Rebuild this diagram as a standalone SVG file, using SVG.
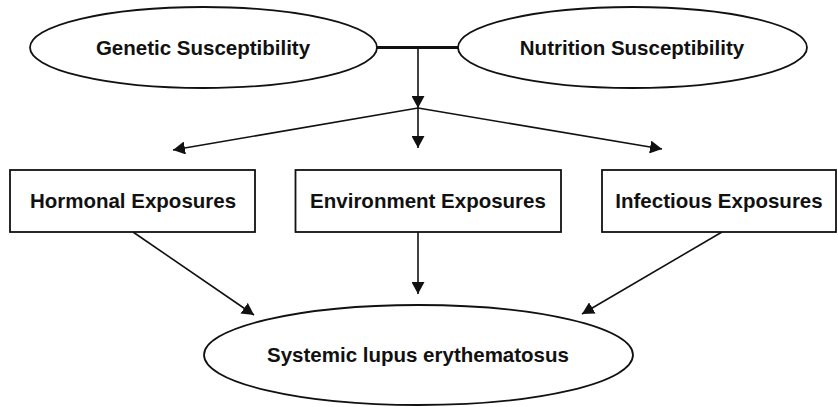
<svg xmlns="http://www.w3.org/2000/svg" width="838" height="407" viewBox="0 0 838 407">
  <style>
    .shape { fill: #fff; stroke: #111; stroke-width: 1.8; }
    .label { font-family: "Liberation Sans", Arial, sans-serif; font-weight: bold; font-size: 20.5px; fill: #111; text-anchor: middle; }
    .conn { fill: none; stroke: #111; stroke-width: 1.6; }
    .arrow { marker-end: url(#ah); }
  </style>
  <defs>
    <marker id="ah" markerUnits="userSpaceOnUse" markerWidth="13" markerHeight="13" refX="12" refY="6.5" orient="auto" viewBox="0 0 13 13">
      <path d="M0,0 L12,6.5 L0,13 z" fill="#111"/>
    </marker>
  </defs>
  <rect width="838" height="407" fill="#fff"/>

  <g id="connectors">
    <line class="conn" x1="377" y1="47.5" x2="458" y2="47.5" style="stroke-width:3"/>
    <line class="conn arrow" x1="418" y1="47.5" x2="418" y2="108"/>
    <line class="conn arrow" x1="418" y1="108" x2="173" y2="150"/>
    <line class="conn arrow" x1="418" y1="108" x2="418" y2="148"/>
    <line class="conn arrow" x1="418" y1="108" x2="662" y2="149"/>
    <line class="conn arrow" x1="133" y1="232" x2="254" y2="315"/>
    <line class="conn arrow" x1="418" y1="232" x2="418" y2="294"/>
    <line class="conn arrow" x1="722" y1="232" x2="582" y2="314"/>
  </g>

  <g id="genetic">
    <ellipse class="shape" cx="203.5" cy="47.5" rx="173.5" ry="40.5"/>
    <text class="label" x="203" y="55">Genetic Susceptibility</text>
  </g>
  <g id="nutrition">
    <ellipse class="shape" cx="632.5" cy="47.5" rx="174.5" ry="40.5"/>
    <text class="label" x="632" y="55">Nutrition Susceptibility</text>
  </g>
  <g id="hormonal">
    <rect class="shape" x="10" y="170" width="245" height="62"/>
    <text class="label" x="133" y="208">Hormonal Exposures</text>
  </g>
  <g id="environment">
    <rect class="shape" x="295.5" y="170" width="265.5" height="62"/>
    <text class="label" x="428" y="208">Environment Exposures</text>
  </g>
  <g id="infectious">
    <rect class="shape" x="602" y="170" width="234" height="62"/>
    <text class="label" x="719" y="208">Infectious Exposures</text>
  </g>
  <g id="sle">
    <ellipse class="shape" cx="418.5" cy="355" rx="214.5" ry="50"/>
    <text class="label" x="418" y="362">Systemic lupus erythematosus</text>
  </g>
</svg>
